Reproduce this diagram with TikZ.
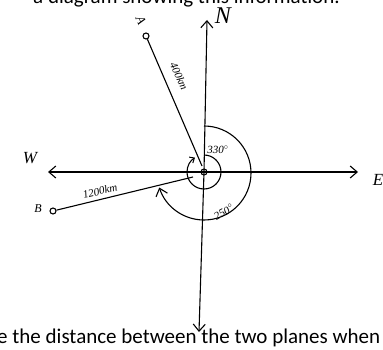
\documentclass[tikz,border=0pt]{standalone}
\usepackage{fontspec}
\setmainfont{Carlito}
\newfontfamily\handfont{Liberation Serif}
\usetikzlibrary{arrows.meta}
\begin{document}
\begin{tikzpicture}[x=1pt,y=-1pt,
  ink/.style={line width=1.1pt,black},
  barb/.style={-{Straight Barb[length=7pt,width=12pt,line width=1.1pt]}},
  printed/.style={font=\fontsize{21}{23}\selectfont,anchor=base west,inner sep=0pt}]
\useasboundingbox (0,0) rectangle (383,350);
% printed texts
\node[printed] (toptext) at (33,4) {a diagram showing this information.};
\node[printed] (bottext) at (-3,343) {e the distance between the two planes when t};
% centre
\coordinate (O) at (204,172);
\coordinate (Ntip) at (207,20);
\coordinate (Stip) at (199,332);
\coordinate (Wtip) at (48,172);
\coordinate (Etip) at (358,172);
\draw[ink,barb] (O) -- (Ntip);
\draw[ink,barb] (O) -- (Stip);
\draw[ink,barb] (O) -- (Wtip);
\draw[ink,barb] (O) -- (Etip);
\node[font=\handfont\itshape\fontsize{24}{24}\selectfont] (N) at (223,16) {N};
\node[font=\handfont\itshape\fontsize{17}{17}\selectfont] (W) at (30,158) {W};
\node[font=\handfont\itshape\fontsize{17}{17}\selectfont] (E) at (378,180) {E};
% planes
\node[draw,circle,ink,inner sep=0pt,minimum size=6pt] (A) at (146,36) {};
\node[draw,circle,ink,inner sep=0pt,minimum size=6pt] (B) at (53,211) {};
\coordinate (Aend) at (202,166);
\coordinate (Bend) at (193,177);
\draw[ink] (A) -- (Aend);
\draw[ink] (B) -- (Bend);
\node[rotate=-65,font=\handfont\itshape\fontsize{13}{13}\selectfont] (Alab) at (141,20) {A};
\node[font=\handfont\itshape\fontsize{12}{12}\selectfont] (Blab) at (38,209) {B};
\node[rotate=-66,font=\handfont\itshape\fontsize{11}{11}\selectfont] (d400) at (179,76) {400km};
\node[rotate=13,font=\handfont\itshape\fontsize{11}{11}\selectfont] (d1200) at (100,191) {1200km};
% angles
\node[draw,circle,ink,inner sep=0pt,minimum size=6pt] (Oc) at (O) {};
\draw[ink,-{Straight Barb[length=4pt,width=7pt,line width=1pt]}] ([shift={(-90:17)}]O) arc[start angle=-90,end angle=238,radius=17];
\draw[ink,barb] ([shift={(-90:46)}]O) arc[start angle=-90,end angle=162,radius=47];
\node[font=\handfont\itshape\fontsize{11}{11}\selectfont] (a330) at (218,150) {330$^\circ$};
\node[rotate=30,font=\handfont\itshape\fontsize{11}{11}\selectfont] (a250) at (224,212) {250$^\circ$};
\end{tikzpicture}
\end{document}
